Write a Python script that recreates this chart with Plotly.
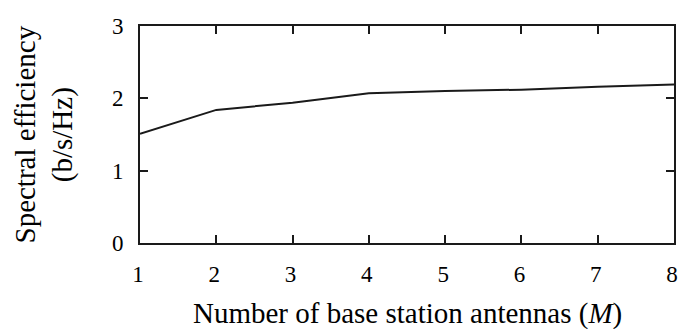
import plotly.graph_objects as go

antennas = [1, 2, 3, 4, 5, 6, 7, 8]
spectral_eff = [1.51, 1.84, 1.94, 2.07, 2.10, 2.12, 2.16, 2.19]
y_ticks = [0, 1, 2, 3]

FONT = "Liberation Serif"
INK = "#000000"

fig = go.Figure()
fig.add_trace(go.Scatter(x=antennas, y=spectral_eff, mode="lines",
                         line=dict(color="#1a1a1a", width=2), showlegend=False))

axis_common = dict(showgrid=False, zeroline=False, showline=True, linecolor="#1a1a1a",
                   linewidth=2, mirror="allticks", ticks="inside", ticklen=8,
                   tickwidth=1.5, tickcolor="#1a1a1a", automargin=False,
                   ticklabeloverflow="allow",
                   tickfont=dict(family=FONT, size=23, color=INK))

fig.update_layout(
    width=679, height=329,
    margin=dict(l=140, r=5, t=26, b=86),
    paper_bgcolor="white", plot_bgcolor="white",
    xaxis=dict(range=[1, 8], tickvals=antennas, ticklabelstandoff=9,
               ticklabelshift=-2, **axis_common),
    yaxis=dict(range=[0, 3], tickvals=y_ticks, ticklabelstandoff=10, **axis_common),
)

fig.add_annotation(text="Number of base station antennas (<i>M</i>)",
                   xref="paper", yref="paper", x=0.5, y=0, xanchor="center",
                   yanchor="middle", yshift=-70, showarrow=False,
                   font=dict(family=FONT, size=29, color=INK))
fig.add_annotation(text="Spectral efficiency<br>(b/s/Hz)",
                   xref="paper", yref="paper", x=0, y=0.5, xanchor="center",
                   yanchor="middle", xshift=-96, textangle=-90, showarrow=False,
                   font=dict(family=FONT, size=29, color=INK))

# remove the default page margin so the figure fills the window exactly
fig.write_html("out.html",
               config={"displayModeBar": False},
               post_script="document.body.style.margin='0';"
                           "document.body.style.overflow='hidden';")
